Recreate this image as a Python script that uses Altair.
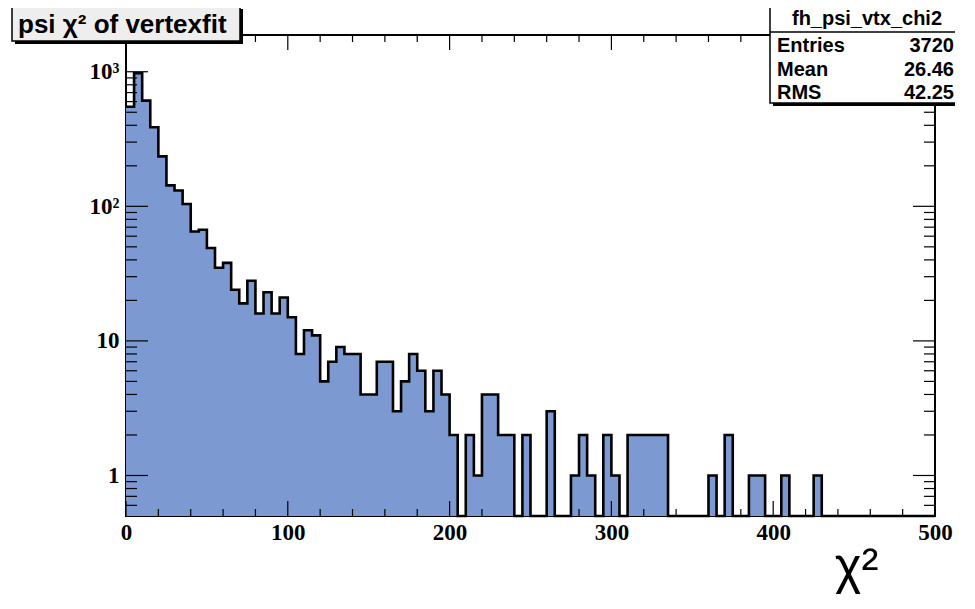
import altair as alt
import pandas as pd

# ---- data (bin width 5, range 0-500) ----
bin_width = 5
counts = [
    550, 975, 610, 387, 235, 143, 131, 104, 65, 67,   # 0-50
    49, 35, 38, 24, 19, 28, 16, 23, 16, 21,           # 50-100
    15, 8, 12, 11, 5, 7, 9, 8, 8, 4,                  # 100-150
    4, 7, 7, 3, 5, 8, 6, 3, 6, 4,                     # 150-200
    2, 0, 2, 1, 4, 4, 2, 2, 0, 2,                     # 200-250
    0, 0, 3, 0, 0, 1, 2, 1, 0, 2,                     # 250-300
    1, 0, 2, 2, 2, 2, 2, 0, 0, 0,                     # 300-350
    0, 0, 1, 0, 2, 0, 0, 1, 1, 0,                     # 350-400
    0, 1, 0, 0, 0, 1, 0, 0, 0, 0,                     # 400-450
    0, 0, 0, 0, 0, 0, 0, 0, 0, 0,                     # 450-500
]
x_tick_labels = [0, 100, 200, 300, 400, 500]
y_tick_labels = [1, 10, 100, 1000]
title_text = "psi \u03c7\u00b2 of vertexfit"
x_title = "\u03c7\u00b2"
stats_name = "fh_psi_vtx_chi2"
stats_labels = ["Entries", "Mean", "RMS"]
stats_values = ["3720", "26.46", "42.25"]

# ---- layout ----
W, H = 809, 481
YMIN, YMAX = 0.5, 1875
XMIN, XMAX = 0, 500
FILL = "#7d99d1"

lo = [i * bin_width for i in range(len(counts))]
step = pd.DataFrame({
    "x": lo + [len(counts) * bin_width],
    "y": [max(c, YMIN) for c in counts] + [max(counts[-1], YMIN)],
    "base": YMIN,
})

xs = alt.Scale(domain=[XMIN, XMAX], nice=False, zero=False)
ys = alt.Scale(type="log", domain=[YMIN, YMAX], nice=False)

xaxis = alt.Axis(values=x_tick_labels, ticks=False, domain=False, grid=False,
                 labelFont="Liberation Serif", labelFontWeight="bold", labelFontSize=23,
                 labelColor="black", labelPadding=5, labelFlush=False, tickSize=0,
                 title=x_title, titleFont="Liberation Sans", titleFontSize=51,
                 titleFontWeight="normal", titleColor="black", titleX=730, titleY=67,
                 titleAlign="center", titleBaseline="alphabetic")
yaxis = alt.Axis(values=y_tick_labels, ticks=False, domain=False, grid=False,
                 labelFont="Liberation Serif", labelFontWeight="bold", labelFontSize=23,
                 labelColor="black", labelPadding=7, tickSize=0, title=None,
                 labelExpr="datum.value > 500 ? '10\u00b3' : datum.value > 50 ? '10\u00b2' : datum.value > 5 ? '10' : '1'")

area = alt.Chart(step).mark_area(interpolate="step-after", color=FILL, opacity=1).encode(
    x=alt.X("x:Q", scale=xs, axis=xaxis),
    y=alt.Y("y:Q", scale=ys, axis=yaxis),
    y2="base:Q",
)
outline = alt.Chart(step).mark_line(interpolate="step-after", color="black", strokeWidth=2.6).encode(
    x=alt.X("x:Q", scale=xs),
    y=alt.Y("y:Q", scale=ys),
)

# ---- inward ticks on all four sides (ROOT style) ----
y_minor = [m * 10 ** e for e in (-1, 0, 1, 2) for m in range(2, 10)
           if YMIN < m * 10 ** e < YMAX and not (e == -1 and m < 6)]
x_minor = [v for v in range(XMIN, XMAX + 1, 20) if v not in x_tick_labels]

def yt(vals, length):
    d = pd.DataFrame({"v": vals})
    base = alt.Chart(d).mark_rule(color="black", strokeWidth=1.2)
    left = base.encode(y=alt.Y("v:Q", scale=ys), x=alt.value(0), x2=alt.value(length))
    right = base.encode(y=alt.Y("v:Q", scale=ys), x=alt.value(W - length), x2=alt.value(W))
    return [left, right]

def xt(vals, length):
    d = pd.DataFrame({"v": vals})
    base = alt.Chart(d).mark_rule(color="black", strokeWidth=1.2)
    bottom = base.encode(x=alt.X("v:Q", scale=xs), y=alt.value(H - length), y2=alt.value(H))
    top = base.encode(x=alt.X("v:Q", scale=xs), y=alt.value(0), y2=alt.value(length))
    return [bottom, top]

ticks = yt(y_tick_labels, 22) + yt(y_minor, 11) + xt(x_tick_labels, 15) + xt(x_minor, 7)

# ---- title box ----
one = pd.DataFrame({"a": [0]})
def box(x0, x1, y0, y1, fill, shadow=3):
    sh = alt.Chart(one).mark_rect(color="black").encode(
        x=alt.value(x0 + shadow), x2=alt.value(x1 + shadow),
        y=alt.value(y0 + shadow), y2=alt.value(y1 + shadow))
    bx = alt.Chart(one).mark_rect(fill=fill, stroke="black", strokeWidth=1.5).encode(
        x=alt.value(x0), x2=alt.value(x1), y=alt.value(y0), y2=alt.value(y1))
    return [sh, bx]

title_layers = box(-114, 114, -29, 6, "#eeeeee") + [
    alt.Chart(pd.DataFrame({"t": [title_text]})).mark_text(
        font="Liberation Sans", fontWeight="bold", fontSize=26, align="left",
        baseline="alphabetic", color="black").encode(
        text="t:N", x=alt.value(-108), y=alt.value(-2))
]

# ---- stats box ----
SX0, SX1, SY0, SY1 = 644, 838, -30, 68
stats_layers = box(SX0, SX1, SY0, SY1, "white") + [
    alt.Chart(one).mark_rule(color="black", strokeWidth=1.5).encode(
        x=alt.value(SX0), x2=alt.value(SX1), y=alt.value(-3)),
    alt.Chart(pd.DataFrame({"t": [stats_name]})).mark_text(
        font="Liberation Sans", fontWeight="bold", fontSize=20, align="center",
        baseline="alphabetic", color="black").encode(
        text="t:N", x=alt.value((SX0 + SX1) / 2), y=alt.value(-10)),
]
row_y = [17, 41, 64]
for lab, val, ry in zip(stats_labels, stats_values, row_y):
    stats_layers.append(alt.Chart(pd.DataFrame({"t": [lab]})).mark_text(
        font="Liberation Sans", fontWeight="bold", fontSize=20, align="left",
        baseline="alphabetic", color="black").encode(
        text="t:N", x=alt.value(SX0 + 7), y=alt.value(ry)))
    stats_layers.append(alt.Chart(pd.DataFrame({"t": [val]})).mark_text(
        font="Liberation Sans", fontWeight="bold", fontSize=20, align="right",
        baseline="alphabetic", color="black").encode(
        text="t:N", x=alt.value(SX1 - 10), y=alt.value(ry)))

chart = alt.layer(area, outline, *ticks, *title_layers, *stats_layers).properties(
    width=W, height=H,
    autosize=alt.AutoSizeParams(type="none"),
    padding={"left": 118, "top": 27, "right": 20, "bottom": 78},
    background="white",
).configure_view(stroke="black", strokeWidth=2)

chart.save("out.html", embed_options={"renderer": "svg", "actions": False})
